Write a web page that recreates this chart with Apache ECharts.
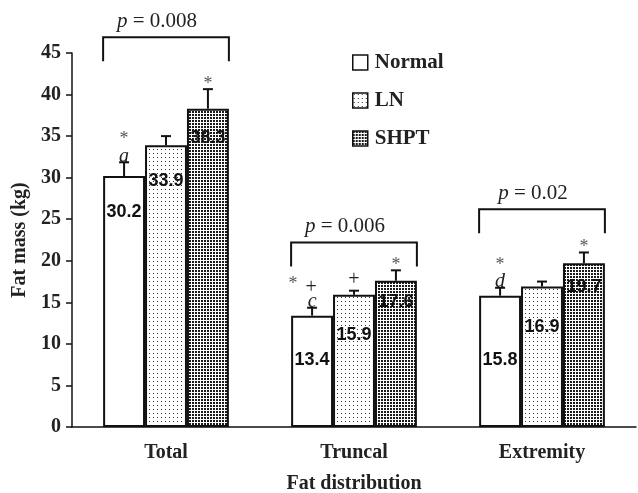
<!DOCTYPE html>
<html>
<head>
<meta charset="utf-8">
<script src="https://cdn.jsdelivr.net/npm/echarts@6/dist/echarts.min.js"></script>
<style>html,body{margin:0;padding:0;background:#fff;}#c{width:638px;height:493px;}</style>
</head>
<body>
<div id="c"></div>
<script>
// ---- data ----
const categories = ['Total', 'Truncal', 'Extremity'];
const seriesNames = ['Normal', 'LN', 'SHPT'];
const normalValues = [30.2, 13.4, 15.8];
const lnValues = [33.9, 15.9, 16.9];
const shptValues = [38.3, 17.6, 19.7];
// upper ends of the error bars
const normalErrTop = [31.85, 14.35, 16.75];
const lnErrTop = [35.0, 16.4, 17.5];
const shptErrTop = [40.65, 18.85, 21.0];
// significance marks above each bar (lines listed top to bottom)
const normalMarks = ['*\na', '*+\nc', '*\nd'];
const lnMarks = ['', '+', ''];
const shptMarks = ['*', '*', '*'];
// group comparison brackets
const pLabels = ['0.008', '0.006', '0.02'];
const bracketLevels = [46.9, 22.2, 26.2];
const yTickMin = 0, yTickMax = 45, yTickStep = 5;

// ---- style ----
const labelDrop = [[34, 42, 62], [33, 38, 38], [27, 19, 21]]; // px below bar top
const SERIF = '"Liberation Serif", "Times New Roman", serif';
const SANS = '"Liberation Sans", Arial, sans-serif';
const BAR_FRAC = 0.223;

function makePattern(kind) {
  const cv = document.createElement('canvas');
  if (kind === 'ln') {
    cv.width = 4; cv.height = 4;
    const g = cv.getContext('2d');
    g.fillStyle = '#fff'; g.fillRect(0, 0, 4, 4);
    g.fillStyle = '#333'; g.fillRect(1, 1, 1, 1);
  } else {
    cv.width = 3; cv.height = 3;
    const g = cv.getContext('2d');
    g.fillStyle = '#fff'; g.fillRect(0, 0, 3, 3);
    g.fillStyle = '#1a1a1a'; g.fillRect(0, 0, 2, 2);
  }
  return { image: cv, repeat: 'repeat' };
}
const fills = ['#ffffff', makePattern('ln'), makePattern('shpt')];
const valueSets = [normalValues, lnValues, shptValues];
const errSets = [normalErrTop, lnErrTop, shptErrTop];
const markSets = [normalMarks, lnMarks, shptMarks];

// vertical offset (px above the error cap) of a glyph's centre, by row (0 = nearest)
function glyphStyle(ch) {
  if (ch === '*') return { font: '18px ' + SERIF, fill: '#555', rows: [-9, -27], adj: 4 };
  if (ch === '+') return { font: '20px ' + SERIF, fill: '#222', rows: [-14, -23], adj: 3 };
  return { font: 'italic 20px ' + SERIF, fill: '#222', rows: [-8, -26], adj: 2 };
}

const barSeries = seriesNames.map((name, s) => ({
  name: name,
  type: 'bar',
  barWidth: (BAR_FRAC * 100) + '%',
  barGap: '0%',
  itemStyle: { color: fills[s], borderColor: '#111', borderWidth: 2 },
  data: valueSets[s].map((v, c) => ({
    value: v,
    label: {
      show: true, position: 'insideTop', distance: 0,
      offset: [0, labelDrop[s][c] - 6.5],
      formatter: String(v.toFixed(1)),
      fontFamily: SANS, fontWeight: 'bold', fontSize: 18, lineHeight: 18, color: '#111'
    }
  }))
}));

const errData = [];
for (let s = 0; s < 3; s++) for (let c = 0; c < 3; c++)
  errData.push([c, valueSets[s][c], errSets[s][c], s]);

const errSeries = {
  type: 'custom',
  name: 'err',
  clip: false,
  z: 5,
  encode: { x: 0, y: 2 },
  data: errData,
  renderItem: function (params, api) {
    const c = api.value(0), v = api.value(1), t = api.value(2), s = api.value(3);
    const base = api.coord([c, v]);
    const top = api.coord([c, t]);
    const band = api.size([1, 0])[0];
    const x = base[0] + (s - 1) * band * BAR_FRAC;
    const children = [
      { type: 'line', shape: { x1: x, y1: base[1], x2: x, y2: top[1] }, style: { stroke: '#111', lineWidth: 2 } },
      { type: 'line', shape: { x1: x - 5, y1: top[1], x2: x + 5, y2: top[1] }, style: { stroke: '#111', lineWidth: 2 } }
    ];
    const mk = markSets[s][c];
    if (mk) {
      const lines = mk.split('\n').reverse();
      lines.forEach((line, row) => {
        const n = line.length;
        for (let i = 0; i < n; i++) {
          const ch = line[i];
          const gs = glyphStyle(ch);
          const dx = n > 1 ? -1 - (n - 1 - i) * 18 : 0;
          children.push({
            type: 'text',
            x: x + dx, y: top[1] + gs.rows[row] + gs.adj,
            style: { text: ch, font: gs.font, fill: gs.fill, align: 'center', verticalAlign: 'middle' }
          });
        }
      });
    }
    return { type: 'group', children: children };
  }
};

const bracketSeries = {
  type: 'custom',
  name: 'brackets',
  clip: false,
  z: 5,
  encode: { x: 0, y: 1 },
  data: bracketLevels.map((lv, c) => [c, lv]),
  renderItem: function (params, api) {
    const c = api.value(0), lv = api.value(1);
    const p = api.coord([c, lv]);
    const band = api.size([1, 0])[0];
    const half = band * BAR_FRAC * 1.5;
    const x1 = p[0] - half, x2 = p[0] + half, y = p[1];
    return {
      type: 'group',
      children: [
        { type: 'polyline', shape: { points: [[x1, y + 24], [x1, y], [x2, y], [x2, y + 24]] },
          style: { stroke: '#111', lineWidth: 2, fill: null } },
        { type: 'text', x: p[0] - 9, y: y - 16,
          style: {
            text: '{i|p}{n| = ' + pLabels[c] + '}',
            align: 'center', verticalAlign: 'middle',
            rich: {
              i: { fontFamily: SERIF, fontStyle: 'italic', fontSize: 21, fill: '#222' },
              n: { fontFamily: SERIF, fontSize: 21, fill: '#222' }
            }
          } }
      ]
    };
  }
};

const chart = echarts.init(document.getElementById('c'), null, { renderer: 'canvas' });
chart.setOption({
  animation: false,
  backgroundColor: '#fff',
  grid: { left: 72, right: 2, top: 53, bottom: 66, containLabel: false, outerBoundsMode: 'none' },
  legend: {
    data: seriesNames,
    orient: 'vertical',
    left: 352, top: 52,
    padding: 0,
    icon: 'rect',
    itemWidth: 15, itemHeight: 15, itemGap: 17,
    itemStyle: { borderColor: '#111', borderWidth: 1.5 },
    textStyle: { fontFamily: SERIF, fontWeight: 'bold', fontSize: 21, color: '#222', lineHeight: 20, padding: [0, 0, 0, 2] },
    selectedMode: false
  },
  xAxis: {
    type: 'category',
    data: categories,
    name: 'Fat distribution',
    nameLocation: 'middle',
    nameGap: 47,
    nameTextStyle: { fontFamily: SERIF, fontWeight: 'bold', fontSize: 20, color: '#222' },
    axisLine: { lineStyle: { color: '#111', width: 1.5 } },
    axisTick: { length: 10, lineStyle: { color: '#111', width: 1.5 } },
    axisLabel: { fontFamily: SERIF, fontWeight: 'bold', fontSize: 20, color: '#222', margin: 16 }
  },
  yAxis: {
    type: 'value',
    min: yTickMin, max: yTickMax, interval: yTickStep,
    name: 'Fat mass (kg)',
    nameLocation: 'middle',
    nameGap: 42,
    nameTextStyle: { fontFamily: SERIF, fontWeight: 'bold', fontSize: 20, color: '#222' },
    axisLine: { show: true, lineStyle: { color: '#111', width: 1.5 } },
    axisTick: { show: true, length: 6, lineStyle: { color: '#111', width: 1.5 } },
    splitLine: { show: false },
    axisLabel: { fontFamily: SERIF, fontWeight: 'bold', fontSize: 20, color: '#222', margin: 11 }
  },
  series: barSeries.concat([errSeries, bracketSeries])
});
</script>
</body>
</html>
